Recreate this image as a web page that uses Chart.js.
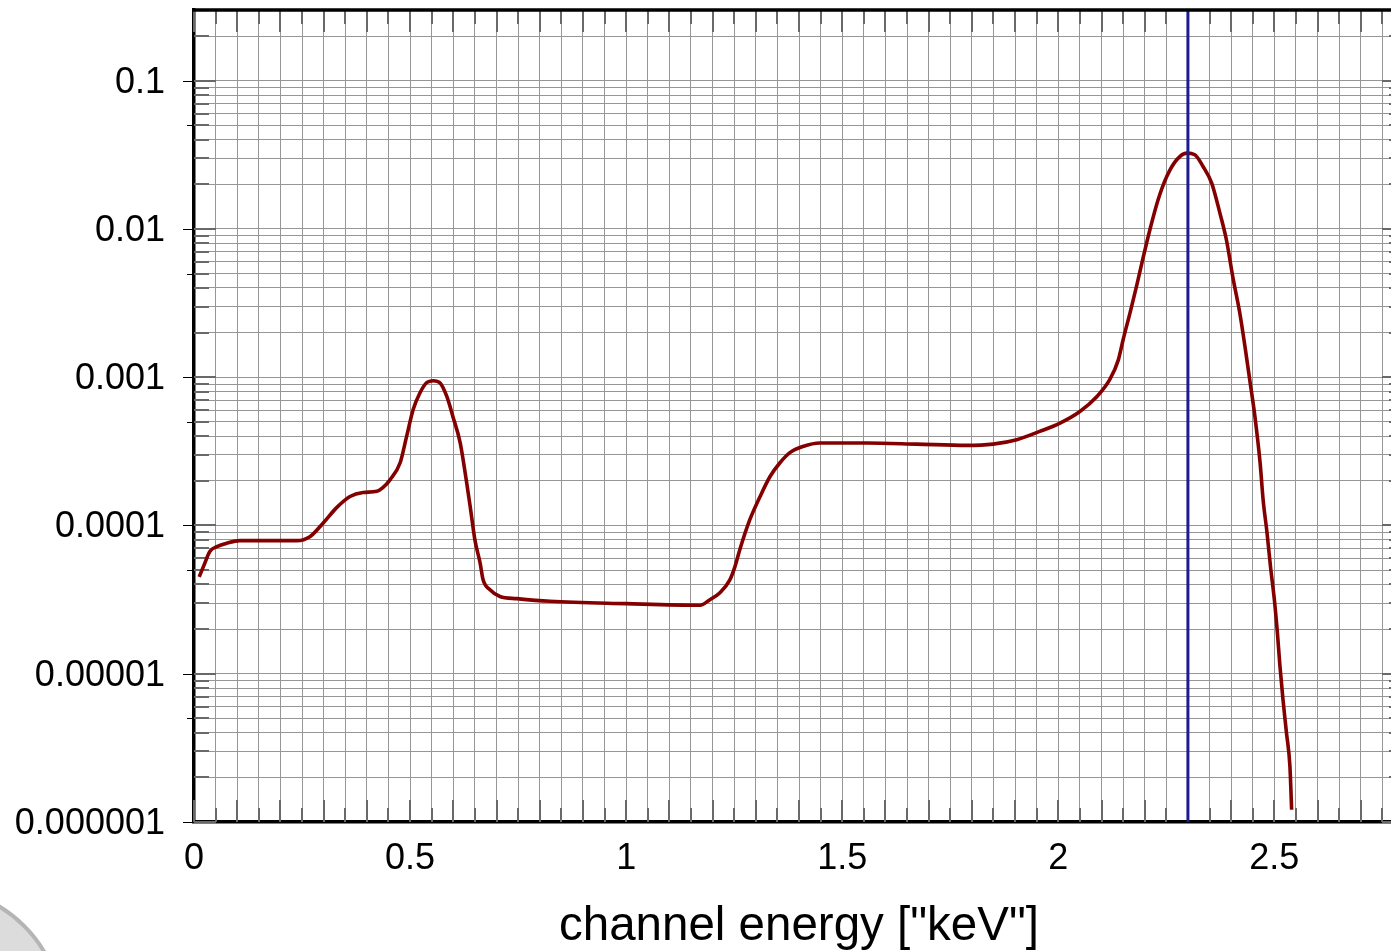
<!DOCTYPE html>
<html>
<head>
<meta charset="utf-8">
<script src="https://cdn.jsdelivr.net/npm/chart.js@4.4.1/dist/chart.umd.min.js"></script>
<style>
  html, body { margin: 0; padding: 0; background: #fff; overflow: hidden; }
  #wrap { position: relative; width: 1391px; height: 951px; overflow: hidden; }
  #badge { position: absolute; left: -205px; top: 885px; width: 270px; height: 270px;
           border-radius: 50%; background: #dcdcdc; border: 4px solid #b5b5b5; box-sizing: border-box; }
  #spectrum { position: absolute; left: 0; top: 0; }
</style>
</head>
<body>
<div id="wrap">
  <div id="badge"></div>
  <canvas id="spectrum" width="1420" height="951"></canvas>
</div>
<script>
// model spectrum, channel energy in keV
var energy = [0.012, 0.022, 0.037, 0.053, 0.076, 0.106, 0.17, 0.238, 0.268, 0.299,
              0.330, 0.361, 0.391, 0.423, 0.437, 0.454, 0.477, 0.492, 0.507, 0.523,
              0.538, 0.554, 0.569, 0.585, 0.599, 0.616, 0.631, 0.639, 0.650, 0.662,
              0.669, 0.685, 0.708, 0.747, 0.824, 1.0, 1.171, 1.194, 1.217, 1.240,
              1.252, 1.263, 1.286, 1.310, 1.333, 1.356, 1.379, 1.409, 1.448, 1.557,
              1.672, 1.788, 1.849, 1.904, 1.957, 2.004, 2.050, 2.089, 2.119, 2.139,
              2.150, 2.166, 2.181, 2.197, 2.212, 2.231, 2.251, 2.274, 2.297, 2.316,
              2.335, 2.355, 2.374, 2.389, 2.405, 2.420, 2.432, 2.443, 2.455, 2.467,
              2.474, 2.483, 2.491, 2.500, 2.507, 2.513, 2.520, 2.528, 2.536, 2.540];
var flux = [4.5e-5, 5.3e-5, 6.7e-5, 7.2e-5, 7.6e-5, 7.9e-5, 7.9e-5, 7.9e-5, 8.4e-5, 1.04e-4,
            1.32e-4, 1.57e-4, 1.67e-4, 1.70e-4, 1.80e-4, 2.04e-4, 2.65e-4, 3.99e-4, 6.04e-4, 7.86e-4,
            9.18e-4, 9.48e-4, 9.18e-4, 7.42e-4, 5.44e-4, 3.61e-4, 1.94e-4, 1.35e-4, 8.0e-5, 5.6e-5,
            4.3e-5, 3.69e-5, 3.32e-5, 3.21e-5, 3.08e-5, 2.97e-5, 2.90e-5, 3.16e-5, 3.52e-5, 4.30e-5,
            5.30e-5, 6.87e-5, 1.09e-4, 1.57e-4, 2.14e-4, 2.65e-4, 3.10e-4, 3.41e-4, 3.60e-4, 3.60e-4,
            3.54e-4, 3.47e-4, 3.54e-4, 3.79e-4, 4.31e-4, 4.91e-4, 5.88e-4, 7.39e-4, 9.62e-4, 1.31e-3,
            1.79e-3, 2.72e-3, 4.10e-3, 6.53e-3, 9.89e-3, 1.575e-2, 2.26e-2, 2.93e-2, 3.25e-2, 3.17e-2,
            2.64e-2, 2.04e-2, 1.28e-2, 8.46e-3, 4.55e-3, 2.71e-3, 1.61e-3, 9.62e-4, 5.44e-4, 2.65e-4,
            1.49e-4, 8.94e-5, 5.30e-5, 3.16e-5, 1.89e-5, 1.12e-5, 6.68e-6, 4.00e-6, 2.37e-6, 1.21e-6];

var markerEnergy = 2.3;      // vertical marker line
var xLimits = [0, 2.8];
var yLimits = [1e-6, 0.3];
var xGridStep = 0.05;
var xLabelStep = 0.5;

Chart.defaults.font.family = '"Liberation Sans", Arial, sans-serif';
Chart.defaults.color = '#000';

function isMultiple(v, step) {
  var k = v / step;
  return Math.abs(k - Math.round(k)) < 1e-6;
}

// inner tick marks on all four sides, outer ticks on the left, and the top/right frame
var frame = {
  id: 'frame',
  beforeDatasetsDraw: function (chart) {
    var ctx = chart.ctx, a = chart.chartArea, xs = chart.scales.x, ys = chart.scales.y;
    ctx.save();
    ctx.strokeStyle = 'rgb(105,105,105)';
    ctx.lineWidth = 2;
    ctx.beginPath();
    xs.ticks.forEach(function (t) {
      var px = Math.round(xs.getPixelForValue(t.value));
      var len = isMultiple(t.value, 0.1) ? 22 : 14;
      ctx.moveTo(px, a.bottom); ctx.lineTo(px, a.bottom - len);
      ctx.moveTo(px, a.top); ctx.lineTo(px, a.top + len);
    });
    ys.ticks.forEach(function (t) {
      var py = Math.round(ys.getPixelForValue(t.value));
      var e = Math.log10(t.value);
      var len = Math.abs(e - Math.round(e)) < 1e-9 ? 22 : 15;
      ctx.moveTo(a.left, py); ctx.lineTo(a.left + len, py);
      ctx.moveTo(a.right, py); ctx.lineTo(a.right - len, py);
    });
    ctx.stroke();

    ctx.strokeStyle = '#000';
    ctx.lineWidth = 1;
    ctx.beginPath();
    ys.ticks.forEach(function (t) {
      var e = Math.log10(t.value);
      var sig = t.value / Math.pow(10, Math.floor(e + 1e-9));
      var py = Math.round(ys.getPixelForValue(t.value)) + 0.5;
      if (Math.abs(sig - 1) < 1e-6) { ctx.moveTo(a.left - 11, py); ctx.lineTo(a.left, py); }
      else if (Math.abs(sig - 5) < 1e-6) { ctx.moveTo(a.left - 7, py); ctx.lineTo(a.left, py); }
    });
    ctx.stroke();
    ctx.restore();
  },
  afterDraw: function (chart) {
    var ctx = chart.ctx, a = chart.chartArea;
    ctx.save();
    ctx.strokeStyle = '#000';
    ctx.lineWidth = 3.5;
    ctx.beginPath();
    ctx.moveTo(a.left - 2, a.top);
    ctx.lineTo(a.right, a.top);
    ctx.lineTo(a.right, a.bottom);
    ctx.stroke();
    ctx.restore();
  }
};

var spectrumPoints = energy.map(function (e, i) { return { x: e, y: flux[i] }; });
var markerPoints = [{ x: markerEnergy, y: yLimits[0] }, { x: markerEnergy, y: yLimits[1] }];

var ctx = document.getElementById('spectrum').getContext('2d');
var chart = new Chart(ctx, {
  type: 'line',
  data: {
    datasets: [{
      data: markerPoints,
      borderColor: '#1c1c8e',
      borderWidth: 3,
      pointRadius: 0,
      order: 0
    }, {
      data: spectrumPoints,
      borderColor: '#840000',
      borderWidth: 3.6,
      pointRadius: 0,
      cubicInterpolationMode: 'monotone',
      order: 1
    }]
  },
  options: {
    responsive: false,
    animation: false,
    layout: { padding: { top: 10, right: 16, left: 0, bottom: 0 } },
    plugins: { legend: { display: false }, tooltip: { enabled: false } },
    scales: {
      x: {
        type: 'linear',
        min: xLimits[0],
        max: xLimits[1],
        grid: { color: 'rgb(150,150,150)', lineWidth: 1, drawTicks: false },
        border: { color: '#000', width: 3.5 },
        ticks: {
          stepSize: xGridStep,
          includeBounds: false,
          autoSkip: false,
          maxRotation: 0,
          padding: 15,
          font: { size: 36 },
          callback: function (v) { return isMultiple(v, xLabelStep) ? String(+v.toFixed(1)) : ''; }
        },
        title: {
          display: true,
          text: 'channel energy ["keV"]',
          font: { size: 47.5, lineHeight: 1 },
          padding: { top: 0, bottom: 0 }
        },
        afterFit: function (s) { s.height = 129; s.paddingLeft = 0; s.paddingRight = 0; }
      },
      y: {
        type: 'logarithmic',
        min: yLimits[0],
        max: yLimits[1],
        grid: { color: 'rgb(150,150,150)', lineWidth: 1, drawTicks: false },
        border: { color: '#000', width: 3.5 },
        ticks: {
          autoSkip: false,
          padding: 29,
          labelOffset: 2,
          font: { size: 36 },
          callback: function (v) {
            var e = Math.log10(v), r = Math.round(e);
            return Math.abs(e - r) < 1e-9 ? v.toFixed(-r) : '';
          }
        },
        // keep only the 1..9 x 10^n lines
        afterBuildTicks: function (s) {
          s.ticks = s.ticks.filter(function (t) {
            var sig = t.value / Math.pow(10, Math.floor(Math.log10(t.value) + 1e-9));
            return Math.abs(sig - Math.round(sig)) < 1e-6 || t.value === yLimits[1];
          });
        },
        afterFit: function (s) { s.width = 194; s.paddingTop = 0; s.paddingBottom = 0; }
      }
    }
  },
  plugins: [frame]
});
</script>
</body>
</html>
